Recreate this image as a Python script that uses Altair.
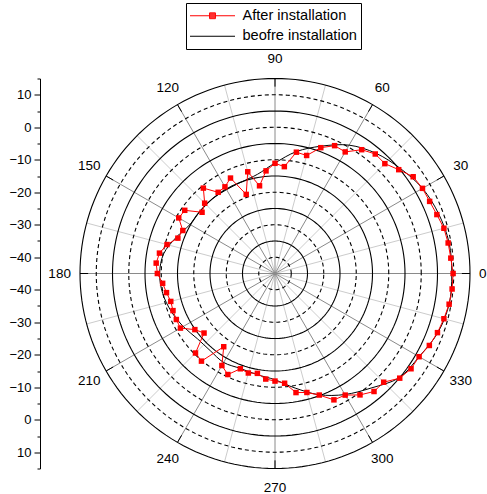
import altair as alt
import pandas as pd

# ---------------- data ----------------
CENTER_VALUE = -45          # radial value at the centre of the plot
OUTER_VALUE = 15            # radial value at the outer ring
series_names = ["After installation", "beofre installation"]

after_angles = list(range(0, 360, 5))
after_values = [9.8, 9.3, 9.1, 8.8, 8.0, 7.5, 7.4, 6.9, 4.7, 2.8, 3.0, 1.5,
                -1.8, -1.6, -3.8, -7.4, -7.1, -12.0, -11.1, -13.3, -17.6, -12.6, -19.1, -12.6,
                -14.2, -14.5, -10.7, -14.4, -15.7, -11.1, -10.8, -13.7, -13.2, -10.6, -8.9, -8.3,
                -8.8, -10.3, -11.1, -11.8, -11.6, -11.5, -11.4, -14.9, -16.5, -10.4, -9.8, -17.5,
                -12.3, -10.7, -13.8, -13.3, -13.8, -12.4, -11.9, -11.1, -7.8, -7.1, -5.2, -2.1,
                -1.8, 0.6, 2.4, 2.3, 5.1, 6.1, 6.2, 7.4, 8.2, 8.8, 9.4, 9.7]

before_angles = list(range(0, 360, 10))
before_values = [9.4, 9.4, 8.6, 7.4, 5.3, 3.3, 0.6, -3.3, -6.9, -11.0, -14.0, -15.0,
                 -15.2, -15.0, -15.0, -14.8, -12.6, -10.2, -9.5, -9.9, -11.0, -12.4, -13.8, -14.0,
                 -13.4, -13.9, -13.4, -12.3, -9.2, -5.3, -2.0, 1.0, 4.9, 6.2, 8.3, 9.4]

ring_values = [-40, -35, -30, -25, -20, -15, -10, -5, 0, 5, 10, 15]
spoke_angles = list(range(0, 360, 15))
label_angles = list(range(0, 360, 30))

# ---------------- tables ----------------
after_df = pd.DataFrame({"a": after_angles + [360], "v": after_values + [after_values[0]],
                         "series": series_names[0]})
before_df = pd.DataFrame({"a": before_angles, "v": before_values, "series": series_names[1]})
legend_df = pd.DataFrame({"series": series_names, "a": [0, 0], "v": [CENTER_VALUE, CENTER_VALUE]})

ring_rows = []
for rv in ring_values:
    for a in range(0, 362, 2):
        ring_rows.append({"v": rv, "a": a,
                          "style": "dashed" if (rv - CENTER_VALUE) % 10 == 5 else "solid"})
ring_df = pd.DataFrame(ring_rows)

spoke_df = pd.DataFrame({"a": spoke_angles,
                         "kind": ["major" if a % 30 == 0 else "minor" for a in spoke_angles]})
label_df = pd.DataFrame({"a": label_angles, "lbl": [str(a) for a in label_angles]})

R = OUTER_VALUE - CENTER_VALUE  # 60
xs = alt.Scale(domain=[-R, R], nice=False, zero=False)
ys = alt.Scale(domain=[-R, R], nice=False, zero=False)

font = "Liberation Sans"
minor_test = "abs(datum.value) % 10 == 5"
yaxis = alt.Axis(
    values=[v for v in range(-60, 61, 5) if v != 0],
    labelExpr=f"{minor_test} ? format(abs(datum.value) - 45, 'd') : ''",
    tickSize={"condition": {"test": minor_test, "value": 6}, "value": 3},
    offset=40, domainColor="black", tickColor="black", labelColor="black",
    labelFontSize=13, labelFont=font, labelPadding=3, grid=False, title=None,
    domainWidth=1, tickWidth=1, labelFlush=False, labelOverlap=False,
)

def X(f):
    return alt.X(f, type="quantitative", scale=xs, axis=None)

def Y(f):
    return alt.Y(f, type="quantitative", scale=ys, axis=yaxis)

px = f"(datum.v - ({CENTER_VALUE})) * cos(datum.a * PI / 180)"
py = f"(datum.v - ({CENTER_VALUE})) * sin(datum.a * PI / 180)"

spoke_base = alt.Chart(spoke_df).transform_calculate(
    x0="0", y0="0",
    x1=f"{R} * cos(datum.a * PI / 180)", y1=f"{R} * sin(datum.a * PI / 180)")

spokes_minor = spoke_base.transform_filter("datum.kind == 'minor'").mark_rule(
    color="#cccccc", strokeWidth=1).encode(x=X("x0"), y=Y("y0"), x2="x1:Q", y2="y1:Q")
spokes_major = spoke_base.transform_filter("datum.kind == 'major'").mark_rule(
    color="#8a8a8a", strokeWidth=1).encode(x=X("x0"), y=Y("y0"), x2="x1:Q", y2="y1:Q")

ticks = alt.Chart(spoke_df).transform_filter("datum.kind == 'major'").transform_calculate(
    x0=f"{R - 2.5} * cos(datum.a * PI / 180)", y0=f"{R - 2.5} * sin(datum.a * PI / 180)",
    x1=f"{R} * cos(datum.a * PI / 180)", y1=f"{R} * sin(datum.a * PI / 180)",
).mark_rule(color="black", strokeWidth=1).encode(x=X("x0"), y=Y("y0"), x2="x1:Q", y2="y1:Q")

ring_base = alt.Chart(ring_df).transform_calculate(x=px, y=py)
rings_solid = ring_base.transform_filter("datum.style == 'solid'").mark_line(
    color="black", strokeWidth=1.1).encode(x=X("x"), y=Y("y"), detail="v:N", order="a:Q")
rings_dashed = ring_base.transform_filter("datum.style == 'dashed'").mark_line(
    color="black", strokeWidth=1.1, strokeDash=[4, 3]).encode(
    x=X("x"), y=Y("y"), detail="v:N", order="a:Q")

# legend symbols: a line with a (stroke-filled) square in the middle, and a plain line
after_symbol = ("M-1,0H1M-0.13,-0.13H0.13V0.13H-0.13Z"
                "M-0.13,-0.09H0.13M-0.13,-0.045H0.13M-0.13,0.045H0.13M-0.13,0.09H0.13")
color_scale = alt.Scale(domain=series_names, range=["#ff0000", "#000000"])
shape_scale = alt.Scale(domain=series_names, range=[after_symbol, "M-1,0H1"])
legend = alt.Legend(
    title=None, orient="none", legendX=106, legendY=-75.5,
    symbolSize=2025, clipHeight=18.5, rowPadding=1.5, padding=3.5,
    labelOffset=7, labelFontSize=14.6, labelFont=font, labelColor="black",
    labelExpr="datum.label + '\u2002\u2009'",
    strokeColor="black", fillColor="white", symbolStrokeWidth=1,
    symbolFillColor="#ff0000", symbolOpacity=1,
)

before_line = alt.Chart(before_df).transform_calculate(x=px, y=py).mark_line(
    strokeWidth=1, interpolate="cardinal-closed").encode(
    x=X("x"), y=Y("y"), order="a:Q",
    color=alt.Color("series:N", scale=color_scale, legend=legend))

after_base = alt.Chart(after_df).transform_calculate(x=px, y=py)
after_line = after_base.mark_line(strokeWidth=1).encode(
    x=X("x"), y=Y("y"), order="a:Q",
    color=alt.Color("series:N", scale=color_scale, legend=legend))
after_pts = after_base.transform_filter("datum.a < 360").mark_square(
    size=30, color="#ff0000", opacity=1).encode(x=X("x"), y=Y("y"))

legend_layer = alt.Chart(legend_df).transform_calculate(x=px, y=py).mark_point(
    filled=False, opacity=0).encode(
    x=X("x"), y=Y("y"),
    color=alt.Color("series:N", scale=color_scale, legend=legend),
    shape=alt.Shape("series:N", scale=shape_scale, legend=legend))

label_base = alt.Chart(label_df)
labels_mid = label_base.transform_filter("datum.a != 0 && datum.a != 180").transform_calculate(
    x="66 * cos(datum.a * PI / 180)", y="66 * sin(datum.a * PI / 180)",
).mark_text(font=font, fontSize=13.5, color="black", align="center", baseline="middle").encode(
    x=X("x"), y=Y("y"), text="lbl:N")
labels_right = label_base.transform_filter("datum.a == 0").transform_calculate(
    x="62.8", y="0",
).mark_text(font=font, fontSize=13.5, color="black", align="left", baseline="middle").encode(
    x=X("x"), y=Y("y"), text="lbl:N")
labels_left = label_base.transform_filter("datum.a == 180").transform_calculate(
    x="-62.8", y="0",
).mark_text(font=font, fontSize=13.5, color="black", align="right", baseline="middle").encode(
    x=X("x"), y=Y("y"), text="lbl:N")

chart = alt.layer(
    spokes_minor, spokes_major, rings_solid, rings_dashed, ticks,
    before_line, after_line, after_pts, labels_mid, labels_right, labels_left, legend_layer,
).properties(
    width=390, height=390,
    autosize=alt.AutoSizeParams(type="none"),
    padding={"left": 80, "top": 78.5, "right": 17, "bottom": 25.5},
    background="white",
).configure_view(stroke=None)

chart.save("out.html", embed_options={"renderer": "svg", "actions": False})
